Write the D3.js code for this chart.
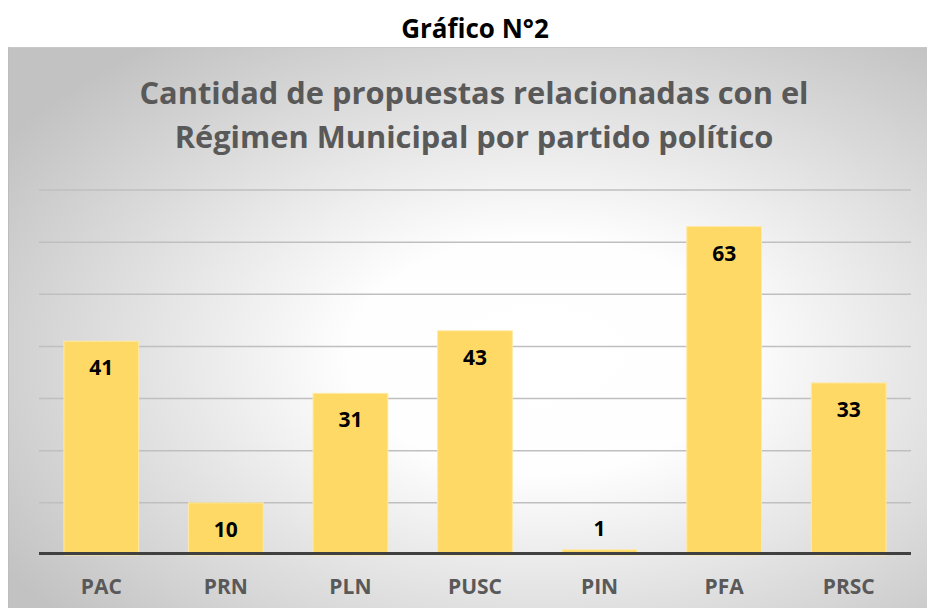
<!DOCTYPE html>
<html><head><meta charset="utf-8">
<script src="https://cdn.jsdelivr.net/npm/d3@7"></script>
<style>html,body{margin:0;padding:0;background:#fff;}svg{display:block;}</style>
</head><body>
<script>
const categories = ["PAC","PRN","PLN","PUSC","PIN","PFA","PRSC"];
const values = [41,10,31,43,1,63,33];
const yTicks = [0,10,20,30,40,50,60,70];
const pageTitle = "Gráfico N°2";
const chartTitle = ["Cantidad de propuestas relacionadas con el","Régimen Municipal por partido político"];

(function(){
const W = 927, H = 608;
const svg = d3.select("body").append("svg").attr("width", W).attr("height", H);
const FONT = "'Open Sans', Lato, sans-serif";

const defs = svg.append("defs");
const grad = defs.append("radialGradient").attr("id","bg")
  .attr("cx","58%").attr("cy","55%").attr("r","70%").attr("fx","58%").attr("fy","55%");
grad.append("stop").attr("offset","0%").attr("stop-color","#ffffff");
grad.append("stop").attr("offset","30%").attr("stop-color","#fefefe");
grad.append("stop").attr("offset","100%").attr("stop-color","#c2c2c2");

svg.append("rect").attr("x",9).attr("y",47).attr("width",W-9).attr("height",H-47).attr("fill","url(#bg)");
svg.append("line").attr("x1",9).attr("x2",W).attr("y1",47.5).attr("y2",47.5).attr("stroke","#c8c8c8").attr("stroke-width",1);
svg.append("line").attr("x1",8.5).attr("x2",8.5).attr("y1",47).attr("y2",H).attr("stroke","#bdbdbd").attr("stroke-width",1);

svg.append("text").attr("x",475).attr("y",38).attr("text-anchor","middle")
  .attr("font-family",FONT).attr("font-weight","bold").attr("font-size",26).attr("fill","#000")
  .text(pageTitle);

svg.append("g").selectAll("text").data(chartTitle).join("text")
  .attr("x",474).attr("y",(d,i)=>104+i*44).attr("text-anchor","middle")
  .attr("font-family",FONT).attr("font-weight","bold").attr("font-size",30.8).attr("fill","#595959")
  .text(d=>d);

const mLeft = 39, mRight = 911, mTop = 190, mBottom = 555;
const x = d3.scaleBand().domain(categories).range([mLeft,mRight]).paddingInner(0.4).paddingOuter(0.2);
const y = d3.scaleLinear().domain([0,70]).range([mBottom,mTop]);

svg.append("g").selectAll("line").data(yTicks.filter(t=>t>0)).join("line")
  .attr("x1",mLeft).attr("x2",mRight).attr("y1",d=>y(d)).attr("y2",d=>y(d))
  .attr("stroke","#bfbfbf").attr("stroke-width",1.5);

svg.append("g").selectAll("rect").data(values).join("rect")
  .attr("x",(d,i)=>x(categories[i])).attr("width",x.bandwidth())
  .attr("y",d=>y(d)).attr("height",d=>mBottom-y(d))
  .attr("fill","#ffd966").attr("stroke","#ffe9a6").attr("stroke-width",1);

svg.append("line").attr("x1",mLeft).attr("x2",mRight).attr("y1",553.5).attr("y2",553.5)
  .attr("stroke","#404040").attr("stroke-width",3);

svg.append("g").selectAll("text").data(values).join("text")
  .attr("x",(d,i)=>x(categories[i])+x.bandwidth()/2)
  .attr("y",d=> d < 5 ? y(d)-14 : y(d)+34)
  .attr("text-anchor","middle").attr("font-family",FONT).attr("font-weight","bold")
  .attr("font-size",21).attr("fill","#000").text(d=>d);

svg.append("g").selectAll("text").data(categories).join("text")
  .attr("x",d=>x(d)+x.bandwidth()/2).attr("y",594)
  .attr("text-anchor","middle").attr("font-family",FONT).attr("font-weight","bold")
  .attr("font-size",21).attr("fill","#595959").text(d=>d);
})();
</script>
</body></html>
